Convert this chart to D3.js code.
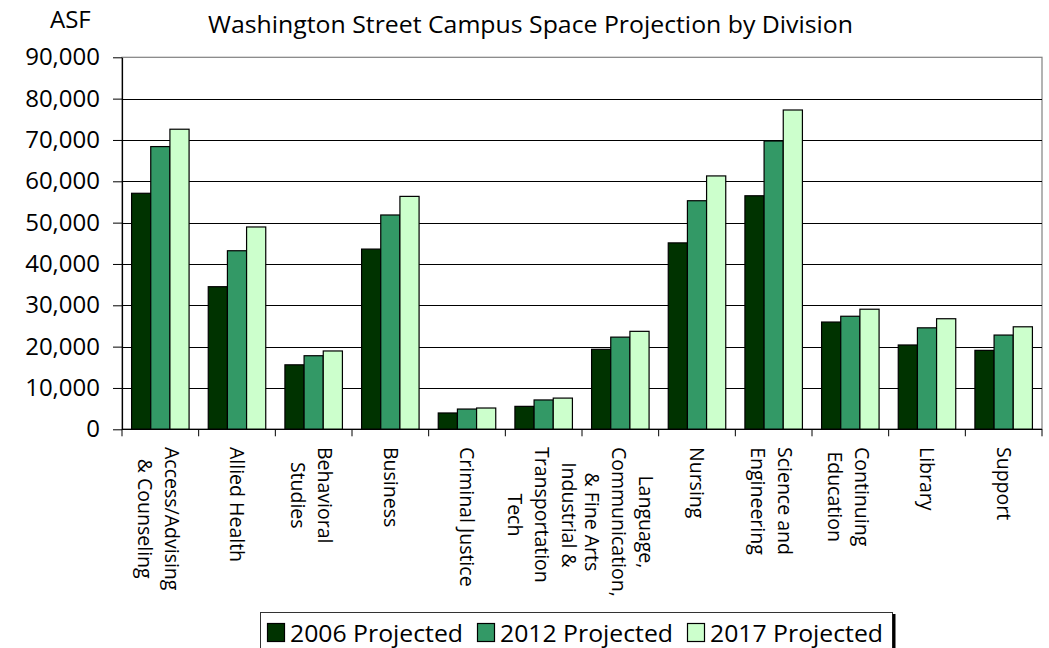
<!DOCTYPE html>
<html>
<head>
<meta charset="utf-8">
<script src="https://cdn.jsdelivr.net/npm/d3@7"></script>
<style>
  html, body { margin: 0; padding: 0; background: #fff; }
  svg { display: block; }
  text { font-family: "Open Sans", "DejaVu Sans", sans-serif; fill: #000; }
</style>
</head>
<body>
<svg id="chart" width="1049" height="648"></svg>
<script>
// ---------- data ----------
const categories = [
  ["Access/Advising", "& Counseling"],
  ["Allied Health"],
  ["Behavioral", "Studies"],
  ["Business"],
  ["Criminal Justice"],
  ["Industrial &", "Transportation", "Tech"],
  ["Language,", "Communication,", "& Fine Arts"],
  ["Nursing"],
  ["Science and", "Engineering"],
  ["Continuing", "Education"],
  ["Library"],
  ["Support"]
];
const seriesNames = ["2006 Projected", "2012 Projected", "2017 Projected"];
const values2006 = [57100, 34500, 15600, 43600, 3950, 5550, 19350, 45100, 56500, 25950, 20400, 19100];
const values2012 = [68400, 43200, 17800, 51850, 4900, 7100, 22300, 55300, 69750, 27350, 24550, 22800];
const values2017 = [72600, 48950, 18950, 56350, 5150, 7550, 23700, 61300, 77250, 29050, 26750, 24800];
const seriesColors = ["#003300", "#339966", "#CCFFCC"];
const yTicks = [0, 10000, 20000, 30000, 40000, 50000, 60000, 70000, 80000, 90000];
const titleText = "Washington Street Campus Space Projection by Division";
const yUnit = "ASF";

const series = [values2006, values2012, values2017];

// ---------- layout ----------
const svg = d3.select("#chart");
const plot = { left: 122, right: 1042, top: 57.3, bottom: 429.3 };

const x0 = d3.scaleBand()
  .domain(d3.range(categories.length))
  .range([plot.left, plot.right])
  .paddingInner(0).paddingOuter(0);
const x1 = d3.scaleBand()
  .domain(d3.range(series.length))
  .range([0, x0.bandwidth()])
  .paddingInner(0)
  .paddingOuter(0.5);   // group = 75% of band
const y = d3.scaleLinear().domain([0, 90000]).range([plot.bottom, plot.top]);

// plot-area border (gray)
svg.append("rect")
  .attr("x", plot.left).attr("y", plot.top)
  .attr("width", plot.right - plot.left).attr("height", plot.bottom - plot.top)
  .attr("fill", "none").attr("stroke", "#808080").attr("stroke-width", 1.2);

// gridlines
svg.append("g").selectAll("line")
  .data(yTicks.filter(t => t > 0 && t < 90000))
  .join("line")
  .attr("x1", plot.left).attr("x2", plot.right)
  .attr("y1", d => Math.round(y(d)) + 0.5).attr("y2", d => Math.round(y(d)) + 0.5)
  .attr("stroke", "#000").attr("stroke-width", 1);

// bars
const groups = svg.append("g").selectAll("g")
  .data(categories.map((c, i) => i))
  .join("g")
  .attr("transform", i => `translate(${x0(i)},0)`);
groups.selectAll("rect")
  .data(i => series.map((s, k) => ({ k, v: s[i] })))
  .join("rect")
  .attr("x", d => x1(d.k))
  .attr("width", x1.bandwidth())
  .attr("y", d => y(d.v))
  .attr("height", d => y(0) - y(d.v))
  .attr("fill", d => seriesColors[d.k])
  .attr("stroke", "#000").attr("stroke-width", 1.2);

// y axis
const yAxis = d3.axisLeft(y)
  .tickValues(yTicks)
  .tickFormat(d3.format(","))
  .tickSizeInner(9).tickSizeOuter(0).tickPadding(13);
const gy = svg.append("g").attr("transform", `translate(${plot.left},0)`).call(yAxis);
gy.select(".domain").attr("stroke", "#000").attr("stroke-width", 1.2);
gy.selectAll(".tick line").attr("stroke", "#000");
gy.selectAll(".tick text")
  .style("font-family", '"Open Sans", sans-serif')
  .style("font-size", "24px").attr("fill", "#000");

// x axis: line + ticks at band boundaries
svg.append("line")
  .attr("x1", plot.left).attr("x2", plot.right)
  .attr("y1", plot.bottom).attr("y2", plot.bottom)
  .attr("stroke", "#000").attr("stroke-width", 1.2);
const bounds = d3.range(categories.length + 1).map(i => plot.left + i * x0.step());
svg.append("g").selectAll("line")
  .data(bounds).join("line")
  .attr("x1", d => d).attr("x2", d => d)
  .attr("y1", plot.bottom).attr("y2", plot.bottom + 7)
  .attr("stroke", "#000").attr("stroke-width", 1);

// x category labels (rotated 90°, lines centered, block top at y=447)
const lineH = 27;
const labelTop = 447;
const lg = svg.append("g");
categories.forEach((lines, i) => {
  const cx = x0(i) + x0.bandwidth() / 2;
  const n = lines.length;
  const t = lg.append("text")
    .style("font-size", "19.5px")
    .attr("text-anchor", "middle");
  lines.forEach((ln, j) => {
    t.append("tspan").attr("x", 0).attr("y", j * lineH).attr("dy", "0.35em").text(ln);
  });
  let maxW = 0;
  t.selectAll("tspan").each(function () { maxW = Math.max(maxW, this.getComputedTextLength()); });
  const blockOffset = ((n - 1) / 2) * lineH;
  t.attr("transform", `translate(${cx + blockOffset - (n > 1 ? 2 : 0)},${labelTop + maxW / 2}) rotate(90)`);
});

// title & unit
svg.append("text")
  .attr("x", 530.5).attr("y", 33)
  .attr("text-anchor", "middle")
  .style("font-size", "24px")
  .attr("textLength", 645).attr("lengthAdjust", "spacingAndGlyphs")
  .text(titleText);
svg.append("text")
  .attr("x", 50).attr("y", 28)
  .style("font-size", "24px")
  .text(yUnit);

// legend
const legend = svg.append("g");
legend.append("rect")
  .attr("x", 260.5).attr("y", 612.5).attr("width", 632).attr("height", 60)
  .attr("fill", "#fff").attr("stroke", "#333").attr("stroke-width", 1);
legend.append("line")
  .attr("x1", 894).attr("x2", 894).attr("y1", 614).attr("y2", 648)
  .attr("stroke", "#000").attr("stroke-width", 3);
seriesNames.forEach((name, k) => {
  const sx = 267 + k * 210;
  legend.append("rect")
    .attr("x", sx + 0.5).attr("y", 623.5).attr("width", 17).attr("height", 18)
    .attr("fill", seriesColors[k]).attr("stroke", "#000").attr("stroke-width", 1.2);
  legend.append("text")
    .attr("x", sx + 23).attr("y", 642)
    .style("font-size", "24px")
    .attr("textLength", 173).attr("lengthAdjust", "spacingAndGlyphs")
    .text(name);
});
</script>
</body>
</html>
